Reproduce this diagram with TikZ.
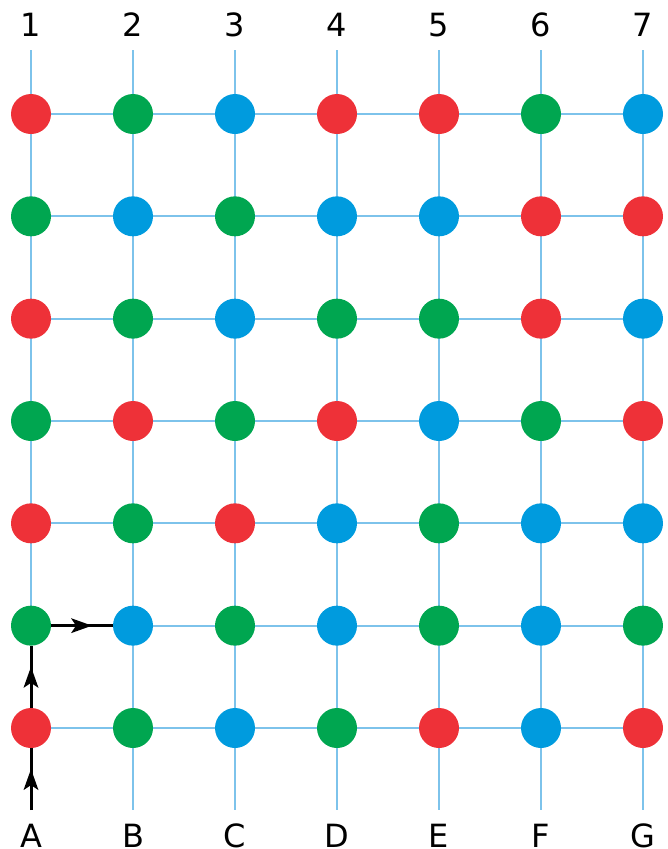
\documentclass[tikz,border=0pt]{standalone}
\usepackage{fontspec}
\setmainfont{DejaVu Sans}
\usetikzlibrary{backgrounds,decorations.markings}
\definecolor{cR}{HTML}{EE3138}
\definecolor{cG}{HTML}{00A650}
\definecolor{cB}{HTML}{009BDE}
\definecolor{gridblue}{HTML}{7DC3EB}
\tikzset{
  dot/.style={circle,minimum size=40pt,inner sep=0pt,draw=none},
  gline/.style={draw=gridblue,line width=2pt},
  lbl/.style={font=\fontsize{32}{32}\selectfont,inner sep=0pt,anchor=base},
  pathline/.style={draw=black,line width=3pt,postaction={decorate},
    decoration={markings,mark=at position 0.5 with {\fill[black] (10pt,0pt) -- (-11pt,7.5pt) -- (-6pt,0pt) -- (-11pt,-7.5pt) -- cycle;}}}
}
\begin{document}
\begin{tikzpicture}[x=1pt,y=-1pt]
\useasboundingbox (0,0) rectangle (667,849);
\foreach \rowlist [count=\j] in {
  {R,G,B,R,R,G,B},
  {G,B,G,B,B,R,R},
  {R,G,B,G,G,R,B},
  {G,R,G,R,B,G,R},
  {R,G,R,B,G,B,B},
  {G,B,G,B,G,B,G},
  {R,G,B,G,R,B,R}}{
  \foreach \c [count=\i] in \rowlist {
    \node[dot,fill=c\c] (n-\i-\j) at ({31+102*(\i-1)},{114+102.333*(\j-1)}) {};
  }
}
\foreach \d [count=\i] in {1,2,3,4,5,6,7}{
  \node[lbl] (top-\i) at ({31+102*(\i-1)},36.5) {\d};
  \coordinate (t-\i) at ({31+102*(\i-1)},50);
  \coordinate (b-\i) at ({31+102*(\i-1)},810);
}
\foreach \l [count=\i] in {A,B,C,D,E,F,G}{
  \node[lbl] (bot-\i) at ({31+102*(\i-1)},847.5) {\l};
}
\begin{pgfonlayer}{background}
  \draw[gline] (t-1) -- (n-1-6.center);
  \foreach \i in {2,...,7}{
    \draw[gline] (t-\i) -- (b-\i);
  }
  \foreach \j in {1,2,3,4,5,7}{
    \draw[gline] (n-1-\j.center) -- (n-7-\j.center);
  }
  \draw[gline] (n-2-6.center) -- (n-7-6.center);
\end{pgfonlayer}
\draw[pathline] (b-1) -- (n-1-7.south);
\draw[pathline] (n-1-7.north) -- (n-1-6.south);
\draw[pathline] (n-1-6.east) -- (n-2-6.west);
\end{tikzpicture}
\end{document}
